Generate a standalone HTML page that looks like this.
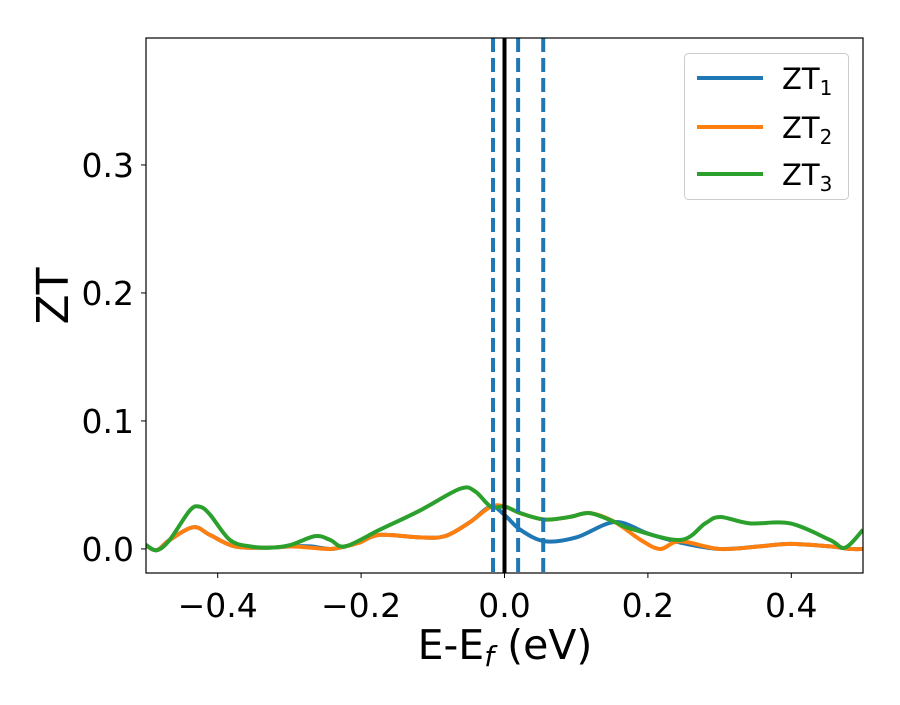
<!DOCTYPE html>
<html><head><meta charset="utf-8"><style>
body{margin:0;background:#fff}
svg{font-family:"DejaVu Sans","Liberation Sans",sans-serif}
</style></head><body>
<svg id="chart" width="900" height="700" viewBox="0 0 900 700">
<rect width="900" height="700" fill="#fff"/>
<g id="plot"></g>
<g id="axes"></g>
<text x="505" y="659" font-size="41" text-anchor="middle">E-E<tspan font-style="italic" font-size="28" dy="7">f</tspan><tspan dy="-7"> (eV)</tspan></text>
<text transform="translate(68,296) rotate(-90)" font-size="44" text-anchor="middle">ZT</text>
<g>
<rect x="684.5" y="53.5" width="164" height="146" rx="4" fill="#fff" stroke="#ccc"/>
<line x1="697" x2="763" y1="78" y2="78" stroke="#1f77b4" stroke-width="4"/>
<text x="782" y="89" font-size="29">ZT<tspan font-size="20" dy="6">1</tspan></text>
<line x1="697" x2="763" y1="127" y2="127" stroke="#ff7f0e" stroke-width="4"/>
<text x="782" y="138" font-size="29">ZT<tspan font-size="20" dy="6">2</tspan></text>
<line x1="697" x2="763" y1="174" y2="174" stroke="#2ca02c" stroke-width="4"/>
<text x="782" y="185" font-size="29">ZT<tspan font-size="20" dy="6">3</tspan></text>
</g>
</svg>
<script>
const xTicks=[-0.4,-0.2,0.0,0.2,0.4];
const xTickLabels=["\u22120.4","\u22120.2","0.0","0.2","0.4"];
const yTicks=[0.0,0.1,0.2,0.3];
const yTickLabels=["0.0","0.1","0.2","0.3"];
const dashedLines=[-0.016,0.019,0.054];
const solidLine=[0.0];
const zt1X=[-0.5,-0.485,-0.467,-0.434,-0.411,-0.376,-0.327,-0.299,-0.271,-0.243,-0.222,-0.202,-0.174,-0.118,-0.083,-0.048,-0.019,0.001,0.022,0.056,0.1,0.154,0.2,0.245,0.3,0.356,0.398,0.454,0.482,0.5];
const zt1Y=[0.003,-0.001,0.007,0.017,0.011,0.002,0.001,0.002,0.002,0.0,0.002,0.005,0.011,0.009,0.010,0.021,0.033,0.026,0.015,0.006,0.009,0.021,0.012,0.005,0.0,0.002,0.004,0.002,0.0,0.0];
const zt2X=[-0.5,-0.485,-0.467,-0.434,-0.411,-0.376,-0.327,-0.299,-0.271,-0.243,-0.222,-0.202,-0.174,-0.118,-0.083,-0.048,-0.019,0.001,0.022,0.056,0.091,0.119,0.154,0.19,0.217,0.245,0.3,0.356,0.398,0.454,0.482,0.5];
const zt2Y=[0.003,-0.001,0.007,0.017,0.011,0.002,0.001,0.002,0.001,0.0,0.002,0.005,0.011,0.009,0.010,0.021,0.033,0.033,0.028,0.023,0.025,0.028,0.021,0.007,0.0,0.006,0.0,0.002,0.004,0.002,0.0,0.0];
const zt3X=[-0.5,-0.485,-0.467,-0.439,-0.425,-0.411,-0.383,-0.355,-0.327,-0.299,-0.264,-0.243,-0.222,-0.174,-0.118,-0.062,-0.041,-0.019,0.001,0.022,0.056,0.091,0.119,0.154,0.175,0.245,0.28,0.301,0.342,0.398,0.454,0.475,0.5];
const zt3Y=[0.003,-0.001,0.007,0.030,0.033,0.027,0.007,0.002,0.001,0.003,0.010,0.007,0.002,0.015,0.030,0.047,0.045,0.033,0.033,0.028,0.023,0.025,0.028,0.021,0.016,0.007,0.020,0.025,0.020,0.020,0.007,0.001,0.015];

const L=146,R=863,T=38,B=573;
const xMin=-0.5,xMax=0.5,yMin=-0.0188,yMax=0.3992;
const sx=v=>L+(v-xMin)/(xMax-xMin)*(R-L);
const sy=v=>B-(v-yMin)/(yMax-yMin)*(B-T);
const NS="http://www.w3.org/2000/svg";
const plot=document.getElementById('plot'),axes=document.getElementById('axes');
function mk(tag,attrs,parent){const e=document.createElementNS(NS,tag);for(const k in attrs)e.setAttribute(k,attrs[k]);parent.appendChild(e);return e;}
const clip=mk('clipPath',{id:'clp'},plot);mk('rect',{x:L,y:T,width:R-L,height:B-T},clip);
function smooth(xs,ys){const p=xs.map((x,i)=>[sx(x),sy(ys[i])]);let d=`M${p[0][0]},${p[0][1]}`;
for(let i=0;i<p.length-1;i++){const p0=p[i-1]||p[i],p1=p[i],p2=p[i+1],p3=p[i+2]||p2;
const c1=[p1[0]+(p2[0]-p0[0])/6,p1[1]+(p2[1]-p0[1])/6],c2=[p2[0]-(p3[0]-p1[0])/6,p2[1]-(p3[1]-p1[1])/6];
d+=`C${c1[0]},${c1[1]} ${c2[0]},${c2[1]} ${p2[0]},${p2[1]}`;}return d;}
const g=mk('g',{'clip-path':'url(#clp)'},plot);
const series=[[zt1X,zt1Y,'#1f77b4','zt1'],[zt2X,zt2Y,'#ff7f0e','zt2'],[zt3X,zt3Y,'#2ca02c','zt3']];
series.forEach(s=>{const p=mk('path',{d:smooth(s[0],s[1]),fill:'none',stroke:s[2],'stroke-width':4,'stroke-linejoin':'round'},g);

});
dashedLines.forEach((v,i)=>{const l=mk('line',{x1:sx(v),x2:sx(v),y1:T,y2:B,stroke:'#1f77b4','stroke-width':4,'stroke-dasharray':'14 6'},g);

});
solidLine.forEach(v=>{const l=mk('line',{x1:sx(v),x2:sx(v),y1:T,y2:B,stroke:'#000','stroke-width':4},g);

});
const fr=mk('rect',{x:L,y:T,width:R-L,height:B-T,fill:'none',stroke:'#000','stroke-width':1.2},axes);


xTicks.forEach((v,i)=>{mk('line',{x1:sx(v),x2:sx(v),y1:B,y2:B+5,stroke:'#000'},axes);
const t=mk('text',{x:sx(v),y:B+44,'font-size':33,'text-anchor':'middle'},axes);t.textContent=xTickLabels[i];

});
yTicks.forEach((v,i)=>{mk('line',{x1:L-5,x2:L,y1:sy(v),y2:sy(v),stroke:'#000'},axes);
const t=mk('text',{x:L-12,y:sy(v)+12,'font-size':33,'text-anchor':'end'},axes);t.textContent=yTickLabels[i];

});
</script>
</body></html>
